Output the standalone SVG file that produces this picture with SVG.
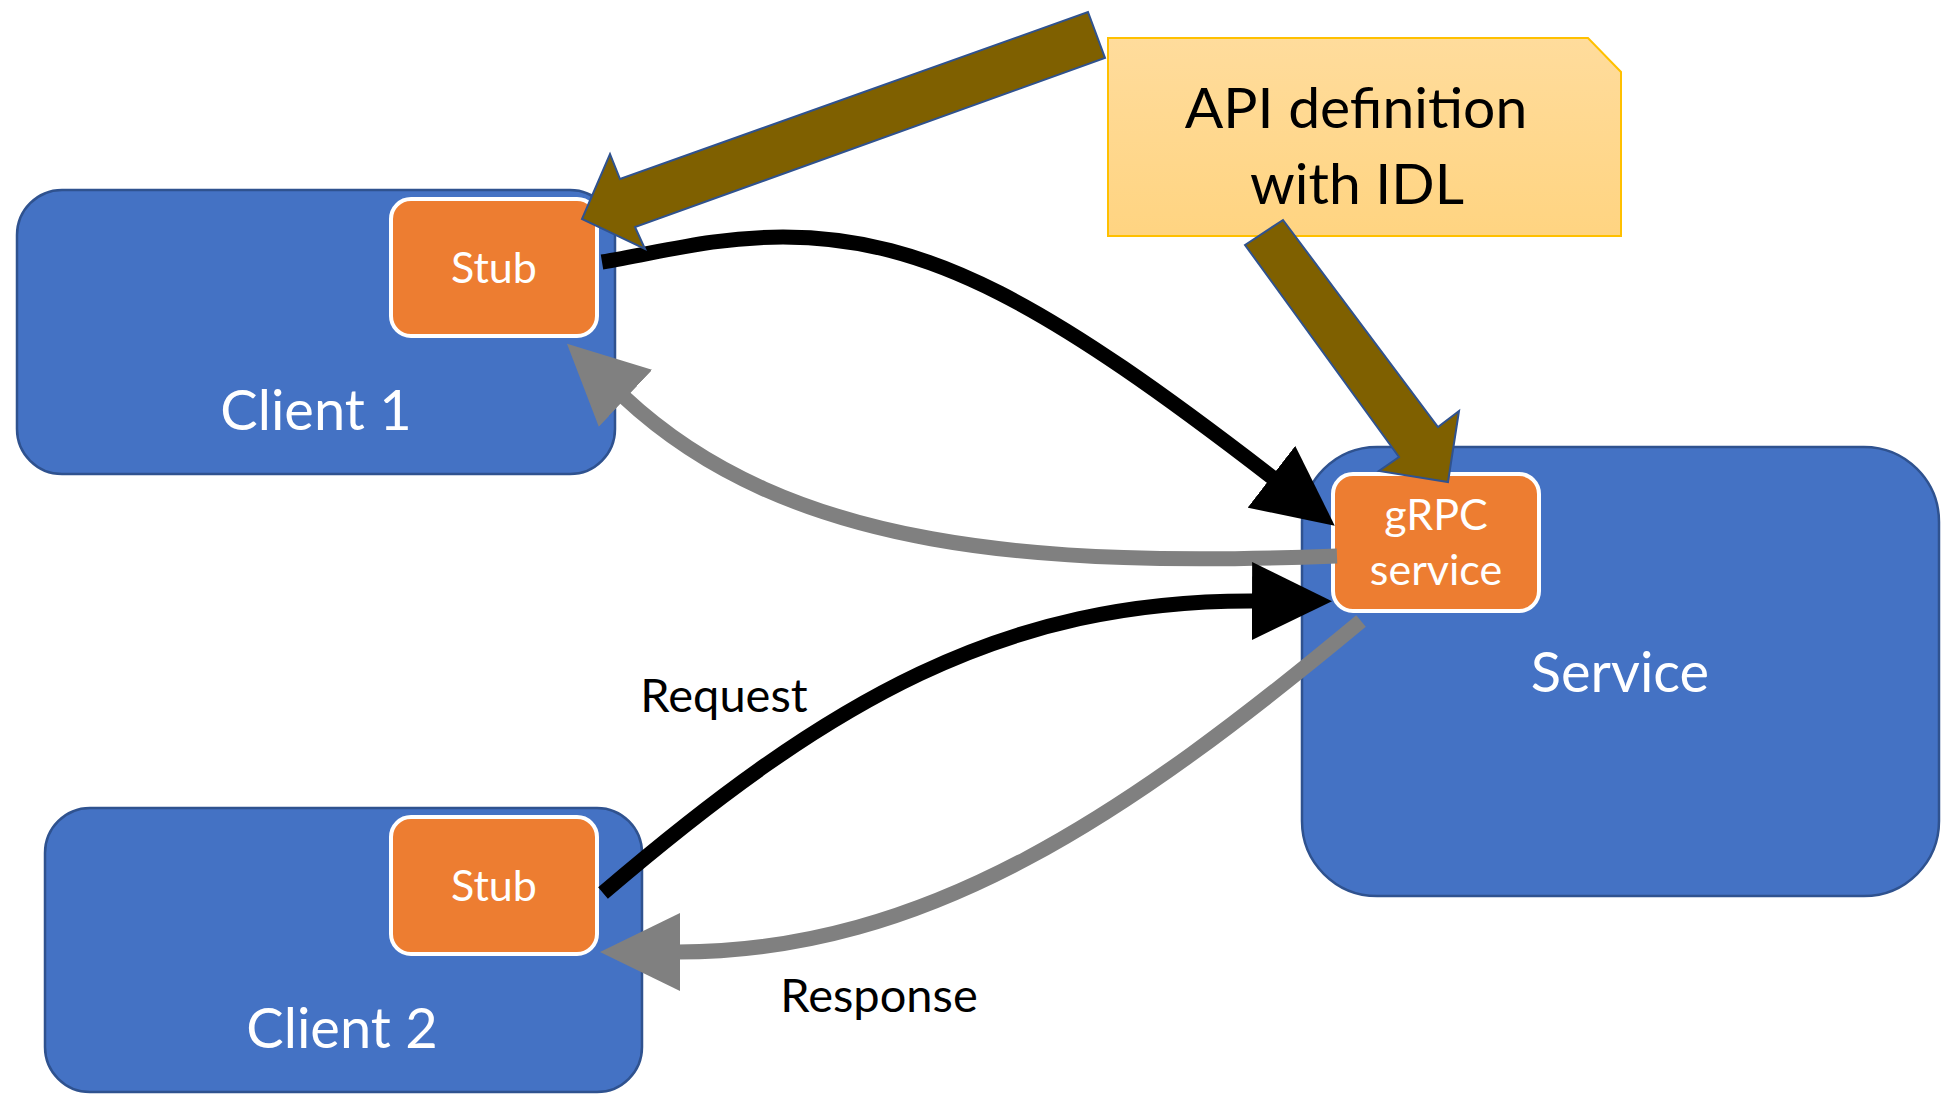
<svg xmlns="http://www.w3.org/2000/svg" width="1946" height="1095" viewBox="0 0 1946 1095">
  <style>
    .box { fill: #4472C4; stroke: #2F528F; stroke-width: 2.5; }
    .part { fill: #ED7D31; stroke: #FFFFFF; stroke-width: 4; }
    .note { fill: url(#noteFill); stroke: #FFC000; stroke-width: 2; }
    .big { font-family: Lato, "Open Sans", "Liberation Sans", sans-serif; font-size: 56px; fill: #FFFFFF; text-anchor: middle; }
    .small { font-family: Lato, "Open Sans", "Liberation Sans", sans-serif; font-size: 43px; fill: #FFFFFF; text-anchor: middle; }
    .label { font-family: Lato, "Open Sans", "Liberation Sans", sans-serif; font-size: 47px; fill: #000000; text-anchor: middle; }
    .notetext { font-family: Lato, "Open Sans", "Liberation Sans", sans-serif; font-size: 57px; fill: #000000; text-anchor: middle; }
    .req { fill: none; stroke: #000000; stroke-width: 15; marker-end: url(#headBlack); }
    .resp { fill: none; stroke: #808080; stroke-width: 15; marker-end: url(#headGray); }
    .idl { fill: #7F6000; stroke: #2F528F; stroke-width: 2; stroke-linejoin: miter; }
  </style>
  <defs>
    <linearGradient id="noteFill" x1="0" y1="0" x2="0" y2="1">
      <stop offset="0" stop-color="#FFDC9C"/>
      <stop offset="1" stop-color="#FFD481"/>
    </linearGradient>
    <marker id="headBlack" markerUnits="userSpaceOnUse" viewBox="0 0 80 78" markerWidth="80" markerHeight="78" refX="2" refY="39" orient="auto">
      <path d="M0,0 L80,39 L0,78 Z" fill="#000000"/>
    </marker>
    <marker id="headGray" markerUnits="userSpaceOnUse" viewBox="0 0 80 78" markerWidth="80" markerHeight="78" refX="2" refY="39" orient="auto">
      <path d="M0,0 L80,39 L0,78 Z" fill="#808080"/>
    </marker>
  </defs>

  <rect width="1946" height="1095" fill="#FFFFFF"/>

  <!-- Client 1 -->
  <g id="client1">
    <rect class="box" x="17" y="190" width="598" height="284" rx="45" ry="45"/>
    <text class="big" x="316" y="430">Client 1</text>
  </g>
  <g id="stub1">
    <rect class="part" x="391" y="199" width="206" height="137" rx="20" ry="20"/>
    <text class="small" x="494" y="283">Stub</text>
  </g>

  <!-- Client 2 -->
  <g id="client2">
    <rect class="box" x="45" y="808" width="597" height="284" rx="45" ry="45"/>
    <text class="big" x="342" y="1048">Client 2</text>
  </g>
  <g id="stub2">
    <rect class="part" x="391" y="817" width="206" height="137" rx="20" ry="20"/>
    <text class="small" x="494" y="901">Stub</text>
  </g>

  <!-- Service -->
  <g id="service">
    <rect class="box" x="1302" y="447" width="637" height="449" rx="75" ry="75"/>
    <text class="big" x="1620" y="692">Service</text>
  </g>
  <g id="grpc-service">
    <rect class="part" x="1333" y="474" width="206" height="137" rx="20" ry="20"/>
    <text class="small" x="1436" y="530">gRPC</text>
    <text class="small" x="1436" y="585">service</text>
  </g>

  <!-- API definition note -->
  <g id="api-note">
    <polygon class="note" points="1108,38 1588,38 1621,72 1621,236 1108,236"/>
    <text class="notetext" x="1356" y="128">API definition</text>
    <text class="notetext" x="1357" y="204">with IDL</text>
  </g>

  <!-- Request / response flows -->
  <g id="connectors">
    <path class="req" d="M602,262 C662,252 713,237 783,237 C930,237 1050,306 1273,478"/>
    <path class="resp" d="M1337,556 C1040,567 790,552 624,397"/>
    <path class="req" d="M603,893 C831,698 1004,600 1254,601"/>
    <path class="resp" d="M1361,621 C1130,813 928,952 678,952"/>
    <text class="label" x="724" y="712">Request</text>
    <text class="label" x="879" y="1012">Response</text>
  </g>

  <!-- Code generation arrows from the IDL -->
  <g id="idl-arrows">
    <polygon class="idl" points="1088,12 1105,58 635,227 645,249 582,219 610,154 620,179"/>
    <polygon class="idl" points="1245,245 1283,220 1438,427 1459,411 1448,482 1379,471 1399,457"/>
  </g>
</svg>
